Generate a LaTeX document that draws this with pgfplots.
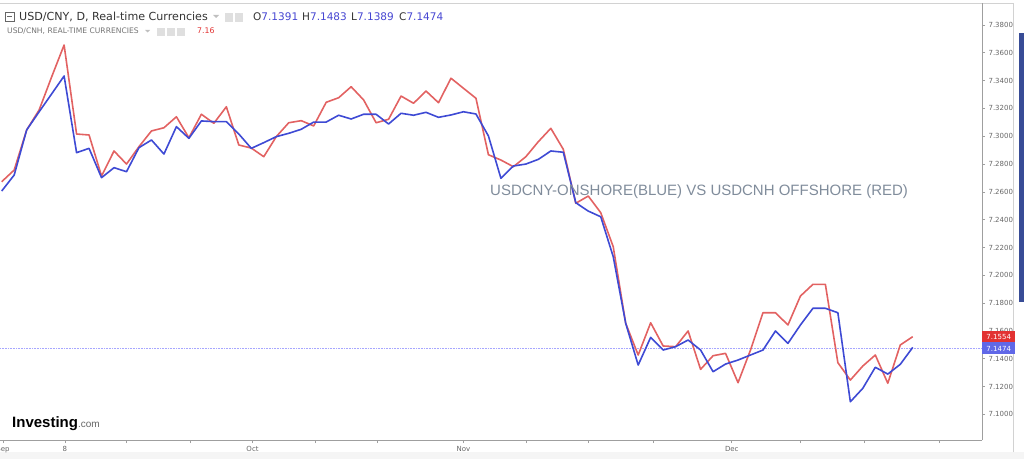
\documentclass[border=0pt]{standalone}
\usepackage{pgfplots}
\pgfplotsset{compat=1.18}
\usepackage{pgfplotstable}
\usepackage{fontspec}
\setmainfont{DejaVu Sans}
\newfontfamily\arialf{Liberation Sans}

\definecolor{cnhred}{RGB}{226,98,98}
\definecolor{cnyblue}{RGB}{62,74,212}
\definecolor{ohlcblue}{RGB}{70,70,210}
\definecolor{notegray}{RGB}{128,140,155}
\definecolor{boxred}{RGB}{226,50,50}
\definecolor{boxblue}{RGB}{96,104,232}
\definecolor{uibar}{RGB}{56,76,150}

% daily closes, i = trading day from early Sep
\pgfplotstableread{
i  cny    cnh
0  7.2606 7.2673
1  7.2721 7.2757
2  7.3045 7.3045
3  7.3176 7.3189
4  7.3304 7.3426
5  7.3433 7.3656
6  7.2882 7.3016
7  7.2913 7.3009
8  7.2702 7.2714
9  7.2774 7.2894
10 7.2745 7.2800
11 7.2918 7.2925
12 7.2973 7.3038
13 7.2872 7.3061
14 7.3069 7.3140
15 7.2985 7.2989
16 7.3110 7.3158
17 7.3105 7.3093
18 7.3105 7.3212
19 7.3016 7.2937
20 7.2913 7.2915
21 7.2954 7.2853
22 7.2997 7.2997
23 7.3021 7.3097
24 7.3050 7.3112
25 7.3102 7.3074
26 7.3102 7.3244
27 7.3151 7.3277
28 7.3124 7.3356
29 7.3158 7.3261
30 7.3158 7.3097
31 7.3088 7.3122
32 7.3165 7.3289
33 7.3151 7.3237
34 7.3172 7.3325
35 7.3136 7.3241
36 7.3153 7.3417
37 7.3176 7.3345
38 7.3160 7.3273
39 7.3002 7.2867
40 7.2698 7.2829
41 7.2786 7.2781
42 7.2800 7.2853
43 7.2834 7.2961
44 7.2894 7.3057
45 7.2885 7.2906
46 7.2522 7.2518
47 7.2462 7.2570
48 7.2421 7.2450
49 7.2134 7.2206
50 7.1655 7.1655
51 7.1355 7.1427
52 7.1554 7.1659
53 7.1463 7.1492
54 7.1487 7.1487
55 7.1535 7.1600
56 7.1463 7.1324
57 7.1307 7.1422
58 7.1362 7.1439
59 7.1391 7.1228
60 7.1427 7.1463
61 7.1463 7.1731
62 7.1600 7.1731
63 7.1511 7.1643
64 7.1643 7.1851
65 7.1763 7.1935
66 7.1763 7.1935
67 7.1731 7.1372
68 7.1091 7.1247
69 7.1188 7.1348
70 7.1339 7.1427
71 7.1290 7.1224
72 7.1360 7.1499
73 7.1482 7.1559
}\fxdata

\begin{document}
\begin{tikzpicture}[x=1pt,y=1pt]
% panel background bits
\fill[gray!8] (0,0) rectangle (1024,7);
\draw[gray!35, line width=0.6pt] (0,456) -- (1013,456);
\draw[gray!35, line width=0.6pt] (1013,7) -- (1013,456);
\fill[uibar] (1019,157) rectangle (1024,426);

\begin{axis}[
    at={(0pt,19pt)}, anchor=south west,
    scale only axis,
    width=982pt, height=437pt,
    xmin=-0.136, xmax=78.55,
    ymin=7.0816, ymax=7.3958,
    axis x line*=bottom, axis y line*=right,
    axis line style={gray!75, -, line width=0.7pt},
    tick style={gray!75, line width=0.6pt},
    tick align=outside,
    major tick length=3pt,
    xtick={0.1,5.07,10,15.1,20.1,25.1,30.1,37,42,47,52.2,58.5,64,69.1,75.1},
    xticklabels={Sep,8,,,Oct,,,Nov,,,,Dec,,,},
    ytick={7.10,7.12,7.14,7.16,7.18,7.20,7.22,7.24,7.26,7.28,7.30,7.32,7.34,7.36,7.38},
    scaled y ticks=false,
    yticklabel style={/pgf/number format/.cd, fixed, fixed zerofill, precision=4, assume math mode=true},
    ticklabel style={font=\fontsize{7}{8}\selectfont, text=black!60},
    clip=false,
]
\addplot[blue!35, densely dotted, line width=0.6pt] coordinates {(-0.136,7.1474) (78.55,7.1474)};
\addplot[cnhred, line width=1.6pt, line join=round] table[x=i, y=cnh] {\fxdata};
\addplot[cnyblue, line width=1.6pt, line join=round] table[x=i, y=cny] {\fxdata};
\coordinate (rb) at (axis cs:78.55,7.1554);
\coordinate (bb) at (axis cs:78.55,7.1474);
\end{axis}

% last price tags
\node[anchor=west, fill=boxred, text=white, inner sep=0, minimum width=33pt, minimum height=12pt,
      font=\fontsize{7}{8}\selectfont] at (rb) {7.1554};
\node[anchor=west, fill=boxblue, text=white, inner sep=0, minimum width=33pt, minimum height=12pt,
      font=\fontsize{7}{8}\selectfont] at (bb) {7.1474};

% header
\draw[black!60, line width=0.6pt] (5,438) rectangle (14,447);
\draw[black!60, line width=0.6pt] (7,442.5) -- (12,442.5);
\node[anchor=base west, inner sep=0, font=\fontsize{11.1}{13}\selectfont, text=black!80] at (19,438.5)
  {USD/CNY, D, Real-time Currencies};
\fill[gray!50] (213,444) -- (219,444) -- (216,441) -- cycle;
\fill[gray!25] (225,437) rectangle (233,446);
\fill[gray!25] (235,437) rectangle (243,446);
\begin{scope}[every node/.style={anchor=base west, inner sep=0, font=\fontsize{10.5}{12}\selectfont, text=black!80}]
\node at (253,438.5) {O\textcolor{ohlcblue}{7.1391}};
\node at (302,438.5) {H\textcolor{ohlcblue}{7.1483}};
\node at (351,438.5) {L\textcolor{ohlcblue}{7.1389}};
\node at (399,438.5) {C\textcolor{ohlcblue}{7.1474}};
\end{scope}
\node[anchor=base west, inner sep=0, font=\fontsize{7.6}{9}\selectfont, text=black!55] at (7,425)
  {USD/CNH, REAL-TIME CURRENCIES};
\fill[gray!50] (145,429) -- (150,429) -- (147.5,426.5) -- cycle;
\fill[gray!25] (157,423) rectangle (165,431);
\fill[gray!25] (167,423) rectangle (175,431);
\fill[gray!25] (177,423) rectangle (185,431);
\node[anchor=base west, inner sep=0, font=\fontsize{7.8}{9}\selectfont, text=boxred] at (197,425) {7.16};

% annotation
\node[anchor=base west, inner sep=0, font=\arialf\fontsize{15}{18}\selectfont, text=notegray] at (490,264)
  {USDCNY-ONSHORE(BLUE) VS USDCNH OFFSHORE (RED)};

% logo
\node[anchor=base west, inner sep=0] at (12,32)
  {\arialf\bfseries\fontsize{15}{17}\selectfont Investing\mdseries\fontsize{10}{12}\selectfont\textcolor{black!60}{.com}};

\pgfresetboundingbox
\useasboundingbox (0,0) rectangle (1024,459);
\end{tikzpicture}
\end{document}
